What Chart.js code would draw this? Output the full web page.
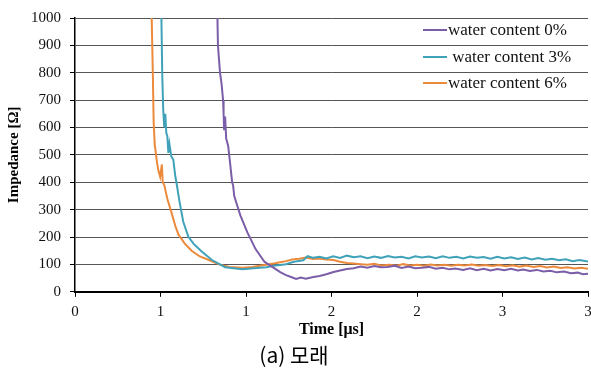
<!DOCTYPE html>
<html>
<head>
<meta charset="utf-8">
<script src="https://cdn.jsdelivr.net/npm/chart.js@4/dist/chart.umd.min.js"></script>
<style>
    html, body { margin: 0; padding: 0; background: #fff; }
    #wrap { width: 591px; height: 373px; }
</style>
</head>
<body>
<div id="wrap"><canvas id="impChart"></canvas></div>
<script>
// series labels and colours
const seriesLabels = ['water content 0%', ' water content 3%', 'water content 6%'];
const seriesColors = ['#7b5ea7', '#3fa2b9', '#ec8a3c'];

// x tick positions and the (rounded) labels printed in the figure
const xTickValues = [0, 0.5, 1, 1.5, 2, 2.5, 3];
const xTickLabels = ['0', '1', '1', '2', '2', '3', '3'];

// water content 0%
const time0 = [0.830, 0.836, 0.842, 0.848, 0.857, 0.866, 0.869, 0.872, 0.878, 0.884, 0.896, 0.907, 0.919, 0.925, 0.931, 0.943, 0.967, 1.008, 1.056, 1.109, 1.174, 1.20, 1.234, 1.26, 1.293, 1.32, 1.35, 1.394, 1.43, 1.47, 1.512, 1.55, 1.59, 1.63, 1.67, 1.71, 1.75, 1.79, 1.827, 1.87, 1.91, 1.95, 1.99, 2.028, 2.07, 2.11, 2.15, 2.19, 2.224, 2.27, 2.31, 2.35, 2.39, 2.43, 2.47, 2.51, 2.55, 2.59, 2.622, 2.66, 2.70, 2.74, 2.78, 2.817, 2.86, 2.90, 2.94, 2.97, 3.0];
const imp0 = [1100, 900, 850, 800, 760, 700, 650, 590, 640, 560, 532, 470, 400, 387, 351, 326, 279, 217, 156, 109, 83, 72, 61, 55, 47, 52, 48, 54, 58, 64, 72, 78, 83, 86, 92, 88, 94, 90, 91, 95, 87, 92, 86, 88, 91, 84, 88, 82, 85, 80, 86, 79, 84, 78, 83, 79, 84, 78, 81, 76, 80, 74, 77, 71, 74, 68, 70, 64, 66];

// water content 3%
const time3 = [0.503, 0.510, 0.516, 0.522, 0.528, 0.534, 0.540, 0.546, 0.552, 0.563, 0.575, 0.587, 0.593, 0.611, 0.633, 0.663, 0.694, 0.741, 0.801, 0.878, 0.979, 1.079, 1.12, 1.16, 1.20, 1.234, 1.27, 1.30, 1.335, 1.36, 1.394, 1.43, 1.47, 1.51, 1.55, 1.59, 1.631, 1.67, 1.71, 1.75, 1.79, 1.83, 1.87, 1.91, 1.95, 1.99, 2.028, 2.07, 2.11, 2.15, 2.19, 2.23, 2.27, 2.31, 2.35, 2.39, 2.43, 2.47, 2.51, 2.55, 2.59, 2.63, 2.67, 2.71, 2.75, 2.79, 2.83, 2.87, 2.91, 2.95, 3.0];
const imp3 = [1100, 800, 664, 600, 650, 580, 568, 507, 540, 495, 482, 420, 400, 330, 256, 201, 175, 147, 116, 90, 82, 88, 90, 95, 98, 101, 108, 112, 115, 130, 124, 128, 122, 130, 124, 132, 126, 130, 123, 129, 124, 131, 125, 128, 122, 130, 125, 129, 123, 130, 124, 128, 122, 129, 124, 127, 121, 128, 122, 126, 120, 125, 118, 123, 117, 121, 115, 119, 112, 116, 111];

// water content 6%
const time6 = [0.442, 0.455, 0.460, 0.466, 0.474, 0.480, 0.489, 0.498, 0.508, 0.513, 0.522, 0.540, 0.563, 0.587, 0.605, 0.641, 0.682, 0.730, 0.783, 0.842, 0.902, 0.979, 1.038, 1.08, 1.127, 1.17, 1.20, 1.234, 1.27, 1.31, 1.352, 1.39, 1.423, 1.47, 1.512, 1.55, 1.59, 1.63, 1.673, 1.71, 1.75, 1.79, 1.839, 1.88, 1.92, 1.96, 2.0, 2.04, 2.08, 2.12, 2.16, 2.20, 2.24, 2.28, 2.32, 2.36, 2.40, 2.44, 2.48, 2.52, 2.56, 2.60, 2.64, 2.68, 2.72, 2.76, 2.80, 2.84, 2.88, 2.92, 2.96, 3.0];
const imp6 = [1200, 800, 620, 540, 500, 470, 440, 420, 465, 400, 390, 340, 292, 240, 209, 177, 150, 129, 116, 100, 91, 88, 91, 95, 100, 104, 108, 112, 118, 121, 125, 120, 122, 118, 116, 110, 105, 103, 101, 99, 102, 96, 99, 95, 101, 96, 99, 95, 100, 96, 99, 95, 99, 96, 100, 95, 98, 94, 98, 93, 97, 92, 96, 91, 94, 89, 92, 87, 90, 85, 88, 84];

const toPoints = (xs, ys) => xs.map((x, i) => ({ x: x, y: ys[i] }));

const serif = "'Liberation Serif', 'Times New Roman', serif";

// legend drawn inside the plot, top right
const insideLegend = {
    id: 'insideLegend',
    afterDatasetsDraw(chart) {
        const ctx = chart.ctx;
        const rows = [30, 57, 83];
        ctx.save();
        ctx.font = '17px ' + serif;
        ctx.textBaseline = 'middle';
        ctx.fillStyle = '#111';
        chart.data.datasets.forEach((ds, i) => {
            ctx.strokeStyle = ds.borderColor;
            ctx.lineWidth = 2;
            ctx.beginPath();
            ctx.moveTo(423, rows[i]);
            ctx.lineTo(447, rows[i]);
            ctx.stroke();
            ctx.fillText(ds.label, 448, rows[i] + 1);
        });
        ctx.restore();
    }
};

new Chart(document.getElementById('impChart'), {
    type: 'scatter',
    data: {
        datasets: [
            { label: seriesLabels[0], data: toPoints(time0, imp0), borderColor: seriesColors[0] },
            { label: seriesLabels[1], data: toPoints(time3, imp3), borderColor: seriesColors[1] },
            { label: seriesLabels[2], data: toPoints(time6, imp6), borderColor: seriesColors[2] }
        ].map(ds => Object.assign(ds, { showLine: true, pointRadius: 0, borderWidth: 2, tension: 0 }))
    },
    options: {
        responsive: true,
        maintainAspectRatio: false,
        animation: false,
        layout: { padding: { top: 14, right: 3, left: 0, bottom: 0 } },
        plugins: {
            legend: { display: false },
            tooltip: { enabled: false },
            title: {
                display: true,
                position: 'bottom',
                text: '(a) 모래',
                color: '#000',
                font: { family: "'Noto Sans CJK KR', 'Noto Sans', sans-serif", size: 21, weight: 'normal' },
                padding: { top: 0, bottom: 5 }
            }
        },
        scales: {
            x: {
                type: 'linear',
                min: 0,
                max: 3,
                afterBuildTicks: scale => { scale.ticks = xTickValues.map(v => ({ value: v })); },
                afterFit: scale => {
                    scale.height = 51;
                    scale.paddingLeft = 0;
                    scale.paddingRight = 0;
                },
                ticks: {
                    callback: (val, i) => xTickLabels[i],
                    color: '#111',
                    padding: 6,
                    maxRotation: 0,
                    font: { family: serif, size: 15 }
                },
                grid: { drawOnChartArea: false, drawTicks: true, tickLength: 5, color: '#000' },
                border: { color: '#000', width: 2 },
                title: {
                    display: true,
                    text: 'Time [μs]',
                    color: '#000',
                    padding: { top: 0, bottom: 3 },
                    font: { family: serif, size: 16, weight: 'bold' }
                }
            },
            y: {
                min: 0,
                max: 1000,
                afterFit: scale => { scale.width = 75; },
                ticks: {
                    stepSize: 100,
                    callback: val => String(val),
                    color: '#111',
                    padding: 9,
                    font: { family: serif, size: 15 }
                },
                grid: { color: '#555', lineWidth: 1, tickLength: 5, tickColor: '#000' },
                border: { color: '#000', width: 1.5 },
                title: {
                    display: true,
                    text: 'Impedance [Ω]',
                    color: '#000',
                    padding: { top: 5, bottom: 0 },
                    font: { family: serif, size: 15, weight: 'bold' }
                }
            }
        }
    },
    plugins: [insideLegend]
});
</script>
</body>
</html>
